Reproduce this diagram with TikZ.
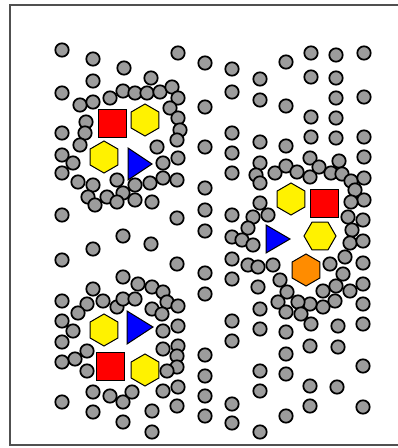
\documentclass[tikz,border=0pt]{standalone}
\usetikzlibrary{shapes.geometric}
\definecolor{ballgray}{HTML}{9C9C9C}
\definecolor{framegray}{HTML}{505050}
\definecolor{ionorange}{HTML}{FF8C00}

\begin{document}
\begin{tikzpicture}[x=1pt, y=-1pt,
    ball/.style={draw=black, fill=ballgray, line width=1.7pt},
    sqion/.style={draw=black, fill=red, line width=1pt, minimum size=28pt, inner sep=0pt},
    hexion/.style={regular polygon, regular polygon sides=6, shape border rotate=30, draw=black, fill=yellow, line width=1pt, minimum size=32pt, inner sep=0pt},
    flathex/.style={hexion, shape border rotate=0},
    triion/.style={draw=black, fill=blue, line width=1pt}]
  \useasboundingbox (0,0) rectangle (398,448);
  % frame
  \draw[framegray, line width=2pt] (398,5) -- (10,5) -- (10,445) -- (398,445);

  % solvent balls, left half
  \foreach \x/\y in {62/50, 93/59, 124/68, 178/53, 93/81, 62/93, 151/78, 80/105, 93/102, 110/98,
      123/91, 135/93, 147/93, 160/92, 172/87, 178/98, 170/108, 178/118, 180/130, 177/140,
      62/133, 86/122, 85/133, 80/145, 157/147, 178/158, 163/163, 62/155, 73/163, 62/173,
      78/182, 93/185, 88/197, 95/205, 107/197, 117/180, 123/193, 135/185, 135/200, 150/183,
      152/202, 163/178, 177/180, 117/202, 62/215, 177/218,
      123/236, 151/244, 93/249, 62/260, 177/264, 123/277, 138/284, 152/287, 163/292, 93/289,
      103/301, 87/304, 78/313, 62/301, 117/307, 123/299, 135/299, 152/309, 167/302, 178/306,
      162/314, 178/326, 163/331, 62/321, 73/331, 62/342, 87/351, 75/359, 62/362, 87/371,
      163/349, 178/346, 177/356, 177/367, 167/371, 163/391, 178/387, 93/392, 110/396, 123/402,
      132/392, 62/402, 93/412, 123/422, 152/411, 177/406, 152/432}
    \draw[ball] (\x,\y) circle[radius=6.7];

  % solvent balls, middle columns
  \foreach \x/\y in {205/63, 205/107, 205/147, 205/188, 205/210, 205/231, 205/273, 205/294,
      205/355, 205/376, 205/396, 205/416,
      232/69, 232/92, 232/133, 232/153, 232/173, 232/215, 232/237, 232/259, 232/279, 232/321,
      232/341, 232/404, 232/423,
      260/79, 260/100, 260/142, 260/163, 256/175, 260/183, 260/203, 253/217, 268/215, 248/228,
      242/240, 253/245, 248/265, 258/267, 258/287, 273/265, 260/309, 260/329, 260/371, 260/391,
      260/432}
    \draw[ball] (\x,\y) circle[radius=6.7];

  % solvent balls, right half
  \foreach \x/\y in {286/62, 286/106, 286/146, 311/53, 311/77, 311/117, 311/137, 336/55, 336/78,
      336/98, 336/118, 336/138, 364/53, 364/97, 364/137, 364/157,
      275/173, 286/166, 297/172, 310/158, 310/177, 319/167, 331/173, 339/161, 342/174, 351/181,
      364/178, 355/190, 364/200, 351/202, 348/217, 363/220, 352/230, 350/243, 363/241, 345/257,
      363/263, 330/264, 343/274, 336/286, 350/291, 323/291, 335/301, 323/307, 310/304, 298/302,
      287/292, 280/280, 278/302, 286/312, 301/314, 311/324,
      363/284, 363/304, 363/324, 338/326, 338/347, 310/346, 286/332, 286/354, 286/374, 310/386,
      310/406, 337/387, 363/366, 363/407, 286/416}
    \draw[ball] (\x,\y) circle[radius=6.7];

  % upper left cluster
  \node[sqion] (sqA) at (112,123) {};
  \node[hexion] (hexA1) at (145,120) {};
  \node[hexion] (hexA2) at (104,157) {};
  \draw[triion] (128,148) -- (128,180) -- (152,164) -- cycle;

  % lower left cluster
  \node[hexion] (hexB1) at (104,330) {};
  \draw[triion] (127,311) -- (127,344) -- (153,327) -- cycle;
  \node[sqion] (sqB) at (110,366) {};
  \node[hexion] (hexB2) at (145,370) {};

  % right cluster
  \node[hexion] (hexC1) at (291,199) {};
  \node[sqion] (sqC) at (324,203) {};
  \node[flathex] (hexC2) at (320,236) {};
  \draw[triion] (266,225) -- (266,253) -- (290,239) -- cycle;
  \node[hexion, fill=ionorange] (hexC3) at (306,270) {};
\end{tikzpicture}
\end{document}
